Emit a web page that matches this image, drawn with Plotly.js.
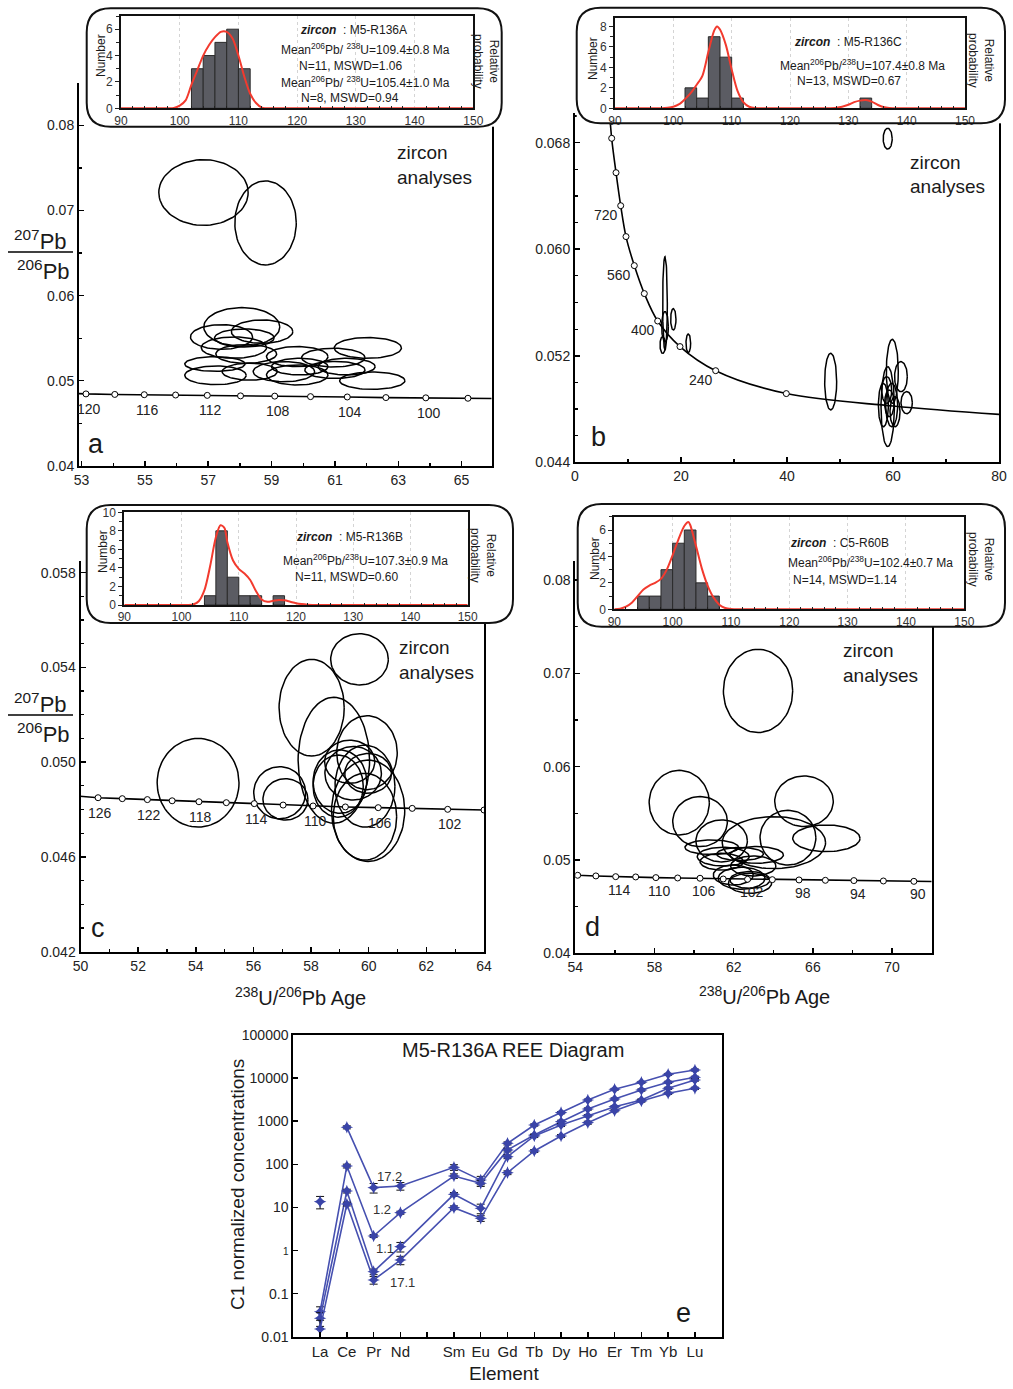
<!DOCTYPE html>
<html><head><meta charset="utf-8">
<script src="https://cdn.plot.ly/plotly-3.0.1.min.js"></script>
<style>body{margin:0;background:#fff}#plot{width:1013px;height:1389px}</style>
</head><body><div id="plot"></div>
<script>
const W = 1013, H = 1389;
const F = 'Liberation Sans, Arial, sans-serif';

// ================= DATA =================
// Panel a (M5-R136A) concordia points (ages in Ma)
const aAges = [120,118,116,114,112,110,108,106,104,102,100,98];
const aConcX = [53.14,54.05,54.98,55.97,56.97,58.02,59.10,60.23,61.39,62.61,63.87,65.20];
const aConcY = [0.04844,0.04838,0.04835,0.04831,0.04827,0.04821,0.04818,0.04812,0.04808,0.04801,0.04798,0.04793];
const aLineEndsX = [52.92, 65.95];
const aLineEndsY = [0.04848, 0.04790];
const aLabelAges = [120,116,112,108,104,100];
// Panel a ellipses: centre x, centre y, semi-axis x, semi-axis y
const aEllX = [56.85,58.81,58.06,57.42,58.70,58.14,57.81,58.20,57.21,57.23,58.31,59.81,60.95,62.04,59.39,59.81,61.00,62.18,59.89,61.37];
const aEllY = [0.07212,0.06855,0.05632,0.05514,0.05577,0.05502,0.05389,0.05314,0.05196,0.05063,0.05106,0.05283,0.05271,0.05385,0.05106,0.05067,0.05126,0.05000,0.05165,0.05165];
const aEllRX = [1.41,0.97,1.20,0.98,0.97,0.94,1.03,0.96,0.95,0.97,0.87,0.97,1.00,1.06,0.97,0.97,0.95,1.03,0.89,0.90];
const aEllRY = [0.00386,0.00494,0.00227,0.00145,0.00137,0.00106,0.00125,0.00110,0.00086,0.00110,0.00100,0.00118,0.00110,0.00122,0.00118,0.00118,0.00100,0.00102,0.00098,0.00098];

// Panel b (M5-R136C)
const bAges = [880,800,720,640,560,480,400,320,240,160];
const bConcX = [6.92,7.74,8.62,9.62,11.19,13.08,15.60,19.81,26.54,39.87];
const bConcY = [0.06833,0.06575,0.06327,0.06095,0.05877,0.05667,0.05461,0.05269,0.05088,0.04916];
const bLineHeadX = [6.48], bLineHeadY = [0.07046];
const bLineTailX = [60, 80], bLineTailY = [0.04823, 0.04760];
const bLabelAges = [720,560,400,240];
const bEllX = [59.0,16.98,16.98,16.54,18.55,21.38,48.24,59.87,61.5,62.58,59.0,58.18,59.75,59.31,60.38,58.81];
const bEllY = [0.0683,0.05594,0.05419,0.05281,0.05474,0.05294,0.05006,0.05083,0.05043,0.04848,0.04818,0.0483,0.0483,0.04843,0.0478,0.04943];
const bEllRX = [0.85,0.44,0.63,0.5,0.5,0.44,1.13,1.13,1.2,1.07,1.26,0.94,1.13,0.88,0.94,0.94];
const bEllRY = [0.00078,0.0035,0.00113,0.00063,0.0008,0.0007,0.00213,0.0024,0.00113,0.00083,0.003,0.00163,0.00163,0.001,0.00113,0.001];

// Panel c (M5-R136B)
const cAges = [126,124,122,120,118,116,114,112,110,108,106,104,102,100];
const cConcX = [50.61,51.45,52.32,53.18,54.11,55.06,56.03,57.03,58.07,59.19,60.33,61.51,62.74,64.00];
const cConcY = [0.04850,0.04846,0.04842,0.04837,0.04833,0.04829,0.04825,0.04819,0.04815,0.04811,0.04808,0.04805,0.04801,0.04798];
const cLineHeadX = [49.97], cLineHeadY = [0.04856];
const cLabelAges = [126,122,118,114,110,106,102];
const cEllX = [54.08,59.68,58.02,58.79,59.94,56.91,57.11,59.0,59.46,59.87,59.98,59.87,58.94,59.98,59.34];
const cEllY = [0.04913,0.05434,0.0523,0.05008,0.0504,0.04871,0.04843,0.04918,0.04953,0.04899,0.04795,0.0477,0.04899,0.04953,0.05002];
const cEllRX = [1.42,1.0,1.13,1.24,1.05,0.9,0.78,0.93,0.98,1.04,1.27,1.1,0.87,0.81,0.87];
const cEllRY = [0.00187,0.00108,0.00204,0.00266,0.00156,0.0011,0.00087,0.00134,0.00113,0.00173,0.00214,0.00183,0.00131,0.00084,0.00091];

// Panel d (C5-R60B)
const dAges = [118,116,114,112,110,108,106,104,102,100,98,96,94,92,90];
const dConcX = [54.12,55.04,56.04,57.05,58.07,59.17,60.30,61.47,62.70,63.95,65.30,66.63,68.07,69.56,71.10];
const dConcY = [0.04836,0.04829,0.04821,0.04818,0.04811,0.04807,0.04804,0.04796,0.04793,0.04789,0.04786,0.04782,0.04779,0.04775,0.04771];
const dLineEndsX = [53.95, 72.0];
const dLineEndsY = [0.04839, 0.04769];
const dLabelAges = [114,110,106,102,98,94,90];
const dEllX = [63.23,59.25,60.30,61.39,65.55,64.74,64.03,66.68,60.89,61.47,62.32,63.16,61.39,62.99,62.40,61.98,62.82,62.82];
const dEllY = [0.06811,0.05614,0.05411,0.05204,0.05629,0.05239,0.05186,0.05232,0.05136,0.05036,0.05064,0.05054,0.04982,0.04936,0.04804,0.04839,0.04786,0.04750];
const dEllRX = [1.75,1.52,1.38,1.30,1.48,1.41,2.61,1.70,1.35,1.31,1.18,1.35,1.09,1.14,1.18,1.01,1.01,1.09];
const dEllRY = [0.00446,0.00346,0.00268,0.00225,0.00271,0.00293,0.00279,0.00143,0.00079,0.00100,0.00070,0.00090,0.00090,0.00107,0.00118,0.00107,0.00090,0.00107];

// Insets: histogram bins (centres, 2 Ma wide) and counts; probability curves
const hA_bins = [103,105,107,109,111];
const hA_cnt  = [3,4,5,6,3];
const hA_px = [90,95,98,99,100,101,102,103,104,105,106,107,108,109,110,111,112,113,114,116,120,130,140,150];
const hA_py = [0,0,0,0.02,0.2,0.6,1.8,2.9,4.0,4.8,5.4,5.8,5.8,5.3,4.0,2.4,1.1,0.4,0.05,0,0,0,0,0];

const hB_bins = [103,105,107,109,111,133];
const hB_cnt  = [2,1,7,5,1,1];
const hB_px = [90,95,98,99,100,101,102,103,104,105,106,107,107.5,108,109,110,111,112,113,114,116,120,126,128,130,131,132,133,134,135,136,137,140,150];
const hB_py = [0,0,0,0.05,0.15,0.4,0.9,1.5,2.3,3.2,5.5,7.6,8.0,7.7,6.2,3.8,1.7,0.6,0.15,0.02,0,0,0,0.05,0.35,0.6,0.75,0.8,0.65,0.35,0.12,0.02,0,0];

const hC_bins = [105,107,109,111,113,117];
const hC_cnt  = [1,8,3,1,1,1];
const hC_px = [90,100,102,103,104,105,106,106.8,107.5,108,109,110,111,112,113,114,115,116,117,118,119,120,121,122,124,130,150];
const hC_py = [0,0,0.05,0.4,1.6,4.2,7.3,8.6,8.3,6.8,4.8,3.9,3.4,2.7,1.5,0.6,0.35,0.45,0.55,0.5,0.35,0.2,0.1,0.04,0,0,0];

const hD_bins = [95,97,99,101,103,105,107];
const hD_cnt  = [1,1,3,5,6,2,1];
const hD_px = [90,91,92,93,94,95,96,97,98,99,100,101,102,102.7,103,104,105,106,107,108,109,110,112,120,150];
const hD_py = [0,0.05,0.2,0.5,1.0,1.5,1.8,2.0,2.3,3.0,4.1,5.3,6.3,6.6,6.4,4.8,3.1,1.8,0.9,0.35,0.1,0.02,0,0,0];

// Panel e: REE diagram (C1 normalized)
const eElements = ['La','Ce','Pr','Nd','','Sm','Eu','Gd','Tb','Dy','Ho','Er','Tm','Yb','Lu'];
const eX = [1,2,3,4,6,7,8,9,10,11,12,13,14,15];          // element positions (Pm skipped)
const eX_noLa = [2,3,4,6,7,8,9,10,11,12,13,14,15];
const s172_La = [13.6];
const s172 = [721,28.7,31.4,85,43,306,817,1578,3104,5486,7980,12230,15420];
const s12  = [0.038,91.4,2.17,7.55,53.5,36.1,215,478,975,1919,3273,5290,7980,10420];
const s11  = [0.0267,24,0.323,1.23,20.1,9.5,150,454,817,1343,2174,3104,5790,9040];
const s171 = [0.015,12,0.207,0.60,9.86,5.57,64,204,454,925,1754,2944,4436,5790];
// error bars, percent of value
const s172_La_err = [32];
const s172_err = [8,25,20,15,22,8,6,6,5,5,5,5,5];
const s12_err  = [30,10,8,8,12,15,10,6,8,6,6,6,6,6];
const s11_err  = [35,10,15,25,10,25,10,8,8,6,6,6,6,6];
const s171_err = [60,10,20,22,10,15,10,8,8,8,6,6,6,6];
const eSeriesNames = ['17.2','1.2','1.1','17.1'];

// ================= HELPERS =================
const X = v => v / W, Y = v => 1 - v / H;
const domX = (a, b) => [a / W, b / W];
const domY = (a, b) => [1 - b / H, 1 - a / H];

function ellipses(cx, cy, rx, ry) {
  const xs = [], ys = [];
  for (let i = 0; i < cx.length; i++) {
    for (let k = 0; k <= 80; k++) {
      const t = 2 * Math.PI * k / 80;
      xs.push(cx[i] + rx[i] * Math.cos(t));
      ys.push(cy[i] + ry[i] * Math.sin(t));
    }
    xs.push(null); ys.push(null);
  }
  return {xs, ys};
}

const traces = [];
function panel(ax, ay, ell, lineX, lineY, ptsX, ptsY, spline) {
  const e = ellipses(...ell);
  traces.push({type:'scatter', mode:'lines', x:e.xs, y:e.ys, xaxis:ax, yaxis:ay,
    line:{color:'#000', width:1.5}, connectgaps:false, hoverinfo:'skip'});
  traces.push({type:'scatter', mode:'lines', x:lineX, y:lineY, xaxis:ax, yaxis:ay,
    line:{color:'#000', width:1.6, shape: spline ? 'spline' : 'linear', smoothing:1}, hoverinfo:'skip'});
  traces.push({type:'scatter', mode:'markers', x:ptsX, y:ptsY, xaxis:ax, yaxis:ay,
    marker:{symbol:'circle', size:6, color:'#fff', line:{color:'#000', width:1}}, hoverinfo:'skip'});
}

panel('x','y',[aEllX,aEllY,aEllRX,aEllRY],
  [aLineEndsX[0], ...aConcX, aLineEndsX[1]], [aLineEndsY[0], ...aConcY, aLineEndsY[1]], aConcX, aConcY, false);
panel('x2','y2',[bEllX,bEllY,bEllRX,bEllRY],
  [...bLineHeadX, ...bConcX, ...bLineTailX], [...bLineHeadY, ...bConcY, ...bLineTailY], bConcX, bConcY, true);
panel('x3','y3',[cEllX,cEllY,cEllRX,cEllRY],
  [...cLineHeadX, ...cConcX], [...cLineHeadY, ...cConcY], cConcX, cConcY, false);
panel('x4','y4',[dEllX,dEllY,dEllRX,dEllRY],
  [dLineEndsX[0], ...dConcX, dLineEndsX[1]], [dLineEndsY[0], ...dConcY, dLineEndsY[1]], dConcX, dConcY, false);

// Panel e
const blue = '#4650b0';
function errs(vals, pct) { return vals.map((v, i) => v * pct[i] / 100); }
function eTrace(x, y, pct, mode) {
  traces.push({type:'scatter', mode, x, y, xaxis:'x5', yaxis:'y5',
    line:{color:blue, width:1.6},
    marker:{symbol:'star-diamond', size:9, color:'#3a44a8'},
    error_y:{type:'data', array:errs(y, pct), color:'#111', thickness:1, width:4},
    hoverinfo:'skip'});
}
eTrace(eX_noLa, s172, s172_err, 'lines+markers');
eTrace([1], s172_La, s172_La_err, 'markers');
eTrace(eX, s12, s12_err, 'lines+markers');
eTrace(eX, s11, s11_err, 'lines+markers');
eTrace(eX, s171, s171_err, 'lines+markers');

// inset white boxes (subplots 6-9) - dummy invisible points so the subplot exists
for (let k = 6; k <= 9; k++) {
  traces.push({type:'scatter', mode:'markers', x:[0.5], y:[0.5], xaxis:'x'+k, yaxis:'y'+k,
    marker:{size:1, opacity:0}, hoverinfo:'skip'});
}
// histograms (subplots 10-13)
const hists = [[hA_bins,hA_cnt,hA_px,hA_py],[hB_bins,hB_cnt,hB_px,hB_py],[hC_bins,hC_cnt,hC_px,hC_py],[hD_bins,hD_cnt,hD_px,hD_py]];
hists.forEach((h, i) => {
  const k = 10 + i;
  traces.push({type:'bar', x:h[0], y:h[1], width:2, xaxis:'x'+k, yaxis:'y'+k,
    marker:{color:'#5b5c63', line:{color:'#2b2b2b', width:1}}, hoverinfo:'skip'});
  traces.push({type:'scatter', mode:'lines', x:h[2], y:h[3], xaxis:'x'+k, yaxis:'y'+k,
    line:{color:'#f23a2e', width:2, shape:'spline', smoothing:0.8}, hoverinfo:'skip'});
});

// ================= LAYOUT =================
const baseAx = {showline:true, linecolor:'#000', linewidth:2, ticks:'inside', ticklen:5, tickwidth:1.5,
  tickcolor:'#000', showgrid:false, zeroline:false, fixedrange:true,
  tickfont:{family:F, size:14, color:'#222'}};
function mAx(extra, minorD) {
  const o = Object.assign({}, baseAx, extra);
  if (minorD) o.minor = {dtick:minorD, ticks:'inside', ticklen:3, tickwidth:1.2, tickcolor:'#000', showgrid:false};
  return o;
}

const mA = [79, 83, 491.7, 465.7];
const mB = [575, 113.4, 999, 462.3];
const mC = [80.5, 560.8, 484, 951.7];
const mD = [575.3, 561.3, 931.7, 953.3];
const mE = [293.3, 1035, 721.7, 1336.7];
const boxes = [[86.7,8.3,501.7,126.7],[576.7,7.7,1005,123.3],[86.7,505,513,623],[577.7,504,1005,626.7]];
const ins = [[121,16,473.3,108.3],[615,18.3,965,108.3],[124.3,512.3,467.7,605],[614.3,516.8,964.3,609.3]];
const inYR = [[0,7],[0,8.8],[0,10],[0,7]];

const layout = {
  width:W, height:H, margin:{l:0,r:0,t:0,b:0}, showlegend:false,
  paper_bgcolor:'#fff', plot_bgcolor:'#fff', font:{family:F, color:'#222'},
  xaxis: mAx({domain:domX(mA[0],mA[2]), range:[52.92,65.95], dtick:2, tick0:53, anchor:'y'}, 1),
  yaxis: mAx({domain:domY(mA[1],mA[3]), range:[0.04,0.085], dtick:0.01, tick0:0.04, tickformat:'.2f', anchor:'x', mirror:true}, 0.005),
  xaxis2: mAx({domain:domX(mB[0],mB[2]), range:[0,80], dtick:20, tick0:0, anchor:'y2'}, 10),
  yaxis2: mAx({domain:domY(mB[1],mB[3]), range:[0.044,0.0702], dtick:0.008, tick0:0.044, tickformat:'.3f', anchor:'x2', mirror:true}, 0.002),
  xaxis3: mAx({domain:domX(mC[0],mC[2]), range:[50,64], dtick:2, tick0:50, anchor:'y3'}, 1),
  yaxis3: mAx({domain:domY(mC[1],mC[3]), range:[0.042,0.0585], dtick:0.004, tick0:0.042, tickformat:'.3f', anchor:'x3', mirror:true}, 0.001),
  xaxis4: mAx({domain:domX(mD[0],mD[2]), range:[54,72], dtick:4, tick0:54, anchor:'y4'}, 2),
  yaxis4: mAx({domain:domY(mD[1],mD[3]), range:[0.04,0.082], dtick:0.01, tick0:0.04, tickformat:'.2f', anchor:'x4', mirror:true}, 0.005),
  xaxis5: Object.assign({}, baseAx, {domain:domX(mE[0],mE[2]), range:[0,16], tickvals:[1,2,3,4,5,6,7,8,9,10,11,12,13,14,15],
    ticktext:eElements, anchor:'y5', mirror:true, tickfont:{family:F,size:15,color:'#222'}}),
  yaxis5: Object.assign({}, baseAx, {domain:domY(mE[1],mE[3]), type:'log', range:[-2,5], anchor:'x5', mirror:true,
    tickvals:[0.01,0.1,1,10,100,1000,10000,100000],
    ticktext:['0.01','0.1','<span style="font-size:10px">1</span>','10','100','1000','10000','100000']}),
  annotations:[], shapes:[]
};

// inset boxes and histogram axes
for (let i = 0; i < 4; i++) {
  const b = boxes[i], p = ins[i], kb = 6 + i, kh = 10 + i;
  layout['xaxis'+kb] = {domain:domX(b[0],b[2]), range:[0,1], visible:false, anchor:'y'+kb, fixedrange:true};
  layout['yaxis'+kb] = {domain:domY(b[1],b[3]), range:[0,1], visible:false, anchor:'x'+kb, fixedrange:true};
  layout['xaxis'+kh] = {domain:domX(p[0],p[2]), range:[90,150], anchor:'y'+kh, dtick:10, tick0:90,
    showline:true, mirror:true, linecolor:'#111', linewidth:2, ticks:'', zeroline:false,
    showgrid:true, gridcolor:'#d4d4d4', griddash:'dot', gridwidth:1,
    minor:{dtick:2, ticks:'inside', ticklen:2, tickcolor:'#222', tickwidth:1, showgrid:false},
    tickfont:{family:F, size:12, color:'#333'}, fixedrange:true};
  layout['yaxis'+kh] = {domain:domY(p[1],p[3]), range:inYR[i], anchor:'x'+kh, dtick:2, tick0:0,
    showline:true, mirror:true, linecolor:'#111', linewidth:2, ticks:'outside', ticklen:4, tickcolor:'#222',
    minor:{dtick:1, ticks:'outside', ticklen:3, tickcolor:'#222', showgrid:false},
    showgrid:false, zeroline:false, tickfont:{family:F, size:12, color:'#333'}, fixedrange:true};
  // rounded border
  const r = 24;
  const x0=b[0], y0=b[1], x1=b[2], y1=b[3];
  const P = (x,y) => X(x)+','+Y(y);
  layout.shapes.push({type:'path', xref:'paper', yref:'paper', layer:'above',
    path:`M${P(x0+r,y0)} L${P(x1-r,y0)} Q${P(x1,y0)} ${P(x1,y0+r)} L${P(x1,y1-r)} Q${P(x1,y1)} ${P(x1-r,y1)} L${P(x0+r,y1)} Q${P(x0,y1)} ${P(x0,y1-r)} L${P(x0,y0+r)} Q${P(x0,y0)} ${P(x0+r,y0)} Z`,
    line:{color:'#111', width:2}});
}

function ann(x, y, text, size, o) {
  layout.annotations.push(Object.assign({xref:'paper', yref:'paper', x:X(x), y:Y(y), text, showarrow:false,
    font:{family:F, size, color:'#1a1a1a'}, xanchor:'center', yanchor:'middle'}, o || {}));
}
function dataLabels(ages, labelAges, xs, ys, xa, ya, dx, dy) {
  labelAges.forEach(a => {
    const i = ages.indexOf(a);
    layout.annotations.push({xref:xa, yref:ya, x:xs[i], y:ys[i], text:String(a), showarrow:false,
      xshift:dx, yshift:dy, font:{family:F, size:14, color:'#222'}});
  });
}
dataLabels(aAges, aLabelAges, aConcX, aConcY, 'x', 'y', 3, -15);
dataLabels(bAges, bLabelAges, bConcX, bConcY, 'x2', 'y2', -15, -9);
dataLabels(cAges, cLabelAges, cConcX, cConcY, 'x3', 'y3', 2, -15);
dataLabels(dAges, dLabelAges, dConcX, dConcY, 'x4', 'y4', 4, -13);

// zircon analyses labels
[[395,153,178],[908,162,186],[397,647,672],[841,650,675]].forEach(z => {
  ann(z[0], z[1], 'zircon', 19, {xanchor:'left'});
  ann(z[0], z[2], 'analyses', 19, {xanchor:'left'});
});
// panel letters
ann(96,444,'a',27); ann(598,437,'b',27); ann(98,928,'c',27); ann(592,927,'d',27); ann(683,1313,'e',27);

// 207Pb/206Pb fraction labels
[[240,252,270],[703,715,733]].forEach(f => {
  ann(40, f[0], '<sup>207</sup>Pb', 22);
  ann(43, f[2], '<sup>206</sup>Pb', 22);
  layout.shapes.push({type:'line', xref:'paper', yref:'paper', x0:X(8), x1:X(73), y0:Y(f[1]), y1:Y(f[1]), line:{color:'#000', width:1.5}});
});
ann(300, 996, '<sup>238</sup>U/<sup>206</sup>Pb Age', 20);
ann(764, 995, '<sup>238</sup>U/<sup>206</sup>Pb Age', 20);

// inset texts
const zi = '<b><i>zircon</i></b>';
ann(353, 30, zi + '  : M5-R136A', 12);
ann(365, 49, 'Mean<sup>206</sup>Pb/ <sup>238</sup>U=109.4±0.8 Ma', 12);
ann(350, 66, 'N=11, MSWD=1.06', 12);
ann(365, 82, 'Mean<sup>206</sup>Pb/ <sup>238</sup>U=105.4±1.0 Ma', 12);
ann(350, 98, 'N=8, MSWD=0.94', 12);
ann(848, 42, zi + '  : M5-R136C', 12);
ann(862, 65, 'Mean<sup>206</sup>Pb/<sup>238</sup>U=107.4±0.8 Ma', 12);
ann(849, 81, 'N=13, MSWD=0.67', 12);
ann(349, 537, zi + '  : M5-R136B', 12);
ann(365, 560, 'Mean<sup>206</sup>Pb/<sup>238</sup>U=107.3±0.9 Ma', 12);
ann(346, 577, 'N=11, MSWD=0.60', 12);
ann(839, 543, zi + '  : C5-R60B', 12);
ann(870, 562, 'Mean<sup>206</sup>Pb/<sup>238</sup>U=102.4±0.7 Ma', 12);
ann(845, 580, 'N=14, MSWD=1.14', 12);
// Number / Relative probability
[[101,56],[593,59],[103,552],[595,559]].forEach(p => ann(p[0], p[1], 'Number', 12, {textangle:-90}));
[[486,61],[981,60],[483,555],[981,559]].forEach(p => ann(p[0], p[1], 'Relative<br>probability', 12, {textangle:90}));

// panel e texts
ann(513, 1050, 'M5-R136A REE Diagram', 20);
ann(237, 1185, 'C1 normalized concentrations', 19, {textangle:-90});
ann(504, 1373, 'Element', 19);
[[389,1176],[382,1209],[385,1248],[402,1282]].forEach((p, i) => ann(p[0], p[1], eSeriesNames[i], 13, {font:{family:F,size:13,color:'#333'}}));

Plotly.newPlot('plot', traces, layout, {staticPlot:true, displayModeBar:false});
</script>
</body></html>
